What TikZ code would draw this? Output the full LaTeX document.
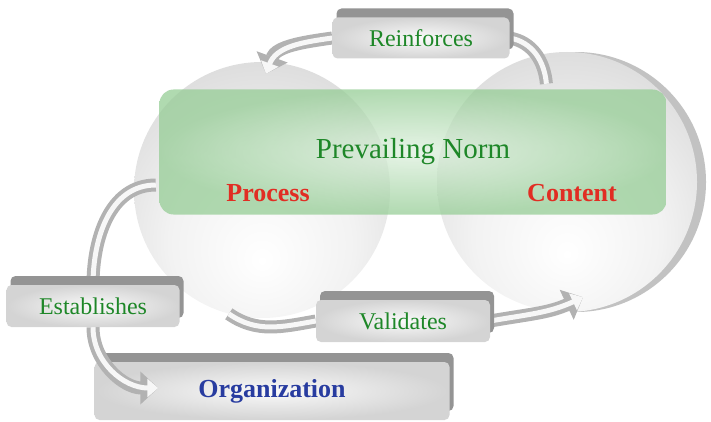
\documentclass[tikz,border=0pt]{standalone}
\usepackage{fontspec}
\setmainfont{Liberation Serif}
\usepackage{tikz}
\usetikzlibrary{arrows.meta, positioning, calc, shadows}
\definecolor{normgreen}{RGB}{30,135,40}
\definecolor{keyred}{RGB}{225,45,35}
\definecolor{orgblue}{RGB}{40,60,160}
\definecolor{paleleaf}{RGB}{222,240,222}
\definecolor{leaf}{RGB}{150,205,150}
% light spot sits a little below the middle of each ball
\pgfdeclareradialshading{sphere}{\pgfpoint{0bp}{-14bp}}{color(0bp)=(white); color(18bp)=(black!5); color(34bp)=(black!14); color(46bp)=(black!24); color(56bp)=(black!34); color(70bp)=(black!42)}
\pgfdeclarelayer{back}
\pgfdeclarelayer{mid}
\pgfsetlayers{back,mid,main}

\begin{document}
\begin{tikzpicture}[x=1pt, y=1pt,
    ball/.style={circle, minimum size=256pt, shading=sphere},
    tag/.style={rounded corners=5pt, inner color=black!2, outer color=black!17,
        drop shadow={shadow xshift=4pt, shadow yshift=9pt, fill=black!42, opacity=1},
        text=normgreen, font=\fontsize{24}{28}\selectfont},
    key/.style={font=\fontsize{26}{30}\selectfont\bfseries},
    flow/.style={draw=black!3, line width=5pt,
        preaction={draw=black!30, line width=13pt}},
    arrow/.style={draw=black!3, line width=5pt, -{Triangle[length=11pt,width=18pt]},
        preaction={draw=black!30, line width=13pt, -{Triangle[length=18pt,width=32pt]}}}]

    \useasboundingbox (0,0) rectangle (711,-422);

    % balls and the organization bar at the back
    \begin{pgfonlayer}{back}
        \node[ball] (process) at (262,-190) {};
        \node[ball, minimum size=260pt,
            drop shadow={shadow xshift=9pt, shadow yshift=0pt, fill=black!24, opacity=1}] (content) at (567,-182) {};
        \node[tag, key, text=orgblue, minimum width=355pt, minimum height=58pt] (organization) at (272,-391) {Organization};
    \end{pgfonlayer}

    \node[rounded corners=14pt, minimum width=507pt, minimum height=125pt,
        inner color=paleleaf, outer color=leaf, fill opacity=0.75, text opacity=1,
        text=normgreen, font=\fontsize{29}{34}\selectfont] (norm) at (413,-152) {Prevailing Norm};
    \node[key, text=keyred] (proclabel) at ($(process)+(6,-3)$) {Process};
    \node[key, text=keyred] (contlabel) at ($(content)+(5,-11)$) {Content};

    \node[tag, minimum width=177pt, minimum height=41pt] (reinforces) at (421,-38) {Reinforces};
    \node[tag, minimum width=173pt, minimum height=42pt] (establishes) at (93,-306) {Establishes};
    \node[tag, minimum width=174pt, minimum height=42pt] (validates) at (403,-321) {Validates};

    \begin{pgfonlayer}{mid}
        \draw[flow] ($(content.100)+(2,-30)$) to[out=95, in=-10] (reinforces.east);
        \draw[arrow] (reinforces.west) to[out=188, in=70] ($(process.north)+(4,-12)$);
        \draw[flow] ($(process.west)+(22,5)$) to[out=180, in=90] (establishes.north);
        \draw[arrow] (establishes.south) to[out=-90, in=180] ($(organization.west)+(64,3)$);
        \draw[flow] (process.255) to[out=-35, in=190] (validates.west);
        \draw[arrow] (validates.east) to[out=10, in=205] ($(content.south)+(16,15)$);
    \end{pgfonlayer}
\end{tikzpicture}
\end{document}
